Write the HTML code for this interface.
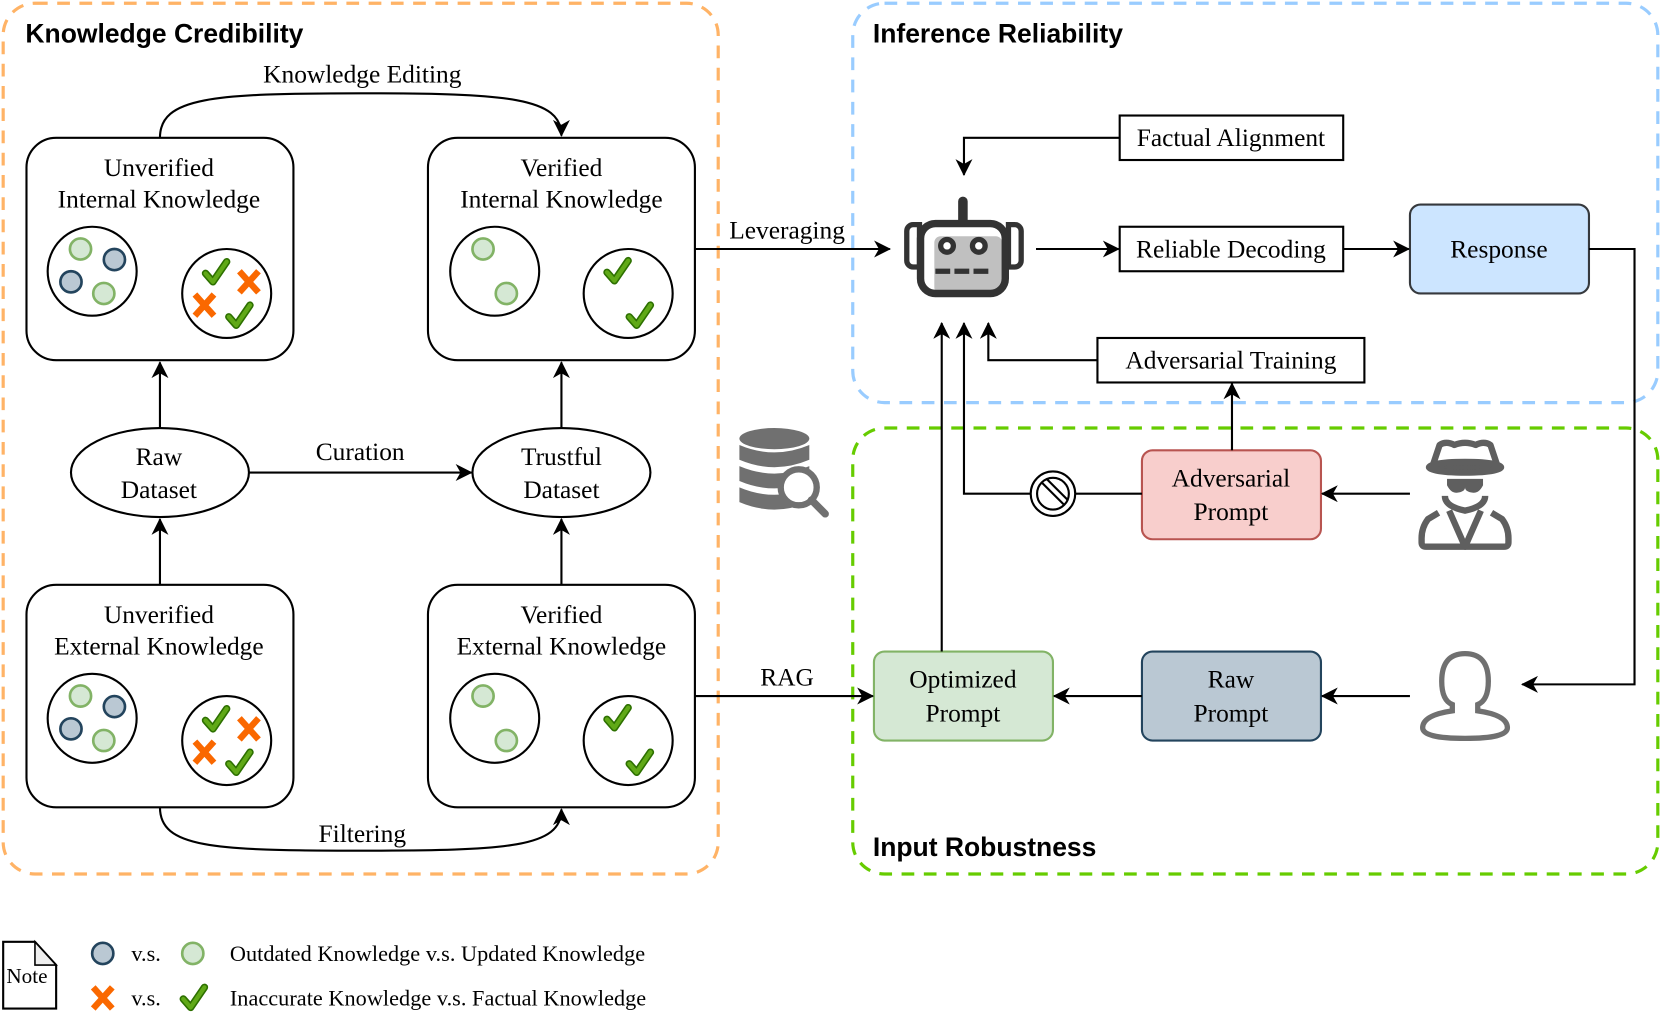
<!DOCTYPE html>
<html><head><meta charset="utf-8"><style>html,body{margin:0;padding:0;background:#fff}svg{display:block}</style></head>
<body>
<svg width="1661" height="1016" viewBox="0 0 1568 959" xmlns="http://www.w3.org/2000/svg">
<defs>
<marker id="ar" viewBox="0 0 14 14" refX="13" refY="7" markerWidth="16" markerHeight="16" markerUnits="userSpaceOnUse" orient="auto"><path d="M0 0 L14 7 L0 14 L4 7 Z" fill="#000"/></marker>
<g id="chk"><path d="M-10 1 L-3 9 L10 -10" fill="none" stroke="#2d7000" stroke-width="7" stroke-linecap="round" stroke-linejoin="round"/><path d="M-10 1 L-3 9 L10 -10" fill="none" stroke="#60a917" stroke-width="4" stroke-linecap="round" stroke-linejoin="round"/></g>
<g id="xx"><path d="M-9 -10 L9 10 M9 -10 L-9 10" stroke="#fa6800" stroke-width="6"/></g>
<g id="cgreen"><circle r="10" fill="#d5e8d4" stroke="#82b366" stroke-width="2.5"/></g>
<g id="cblue"><circle r="10" fill="#bac8d3" stroke="#23445d" stroke-width="2.5"/></g>
</defs>
<g fill="none" stroke-width="3" stroke-dasharray="12 9">
<rect x="3" y="3" width="675" height="822" rx="30" stroke="#ffb366"/>
<rect x="805" y="3" width="760" height="377" rx="30" stroke="#99ccff"/>
<rect x="805" y="404" width="760" height="421" rx="30" stroke="#66cc00"/>
</g>
<g font-family="Liberation Sans, sans-serif" font-weight="bold" font-size="25" fill="#000">
<text x="24" y="40">Knowledge Credibility</text>
<text x="824" y="40">Inference Reliability</text>
<text x="824" y="808">Input Robustness</text>
</g>
<g fill="#fff" stroke="#000" stroke-width="2">
<rect x="25" y="130" width="252" height="210" rx="28"/>
<rect x="404" y="130" width="252" height="210" rx="28"/>
<rect x="25" y="552" width="252" height="210" rx="28"/>
<rect x="404" y="552" width="252" height="210" rx="28"/>
<ellipse cx="151" cy="446" rx="84" ry="42"/>
<ellipse cx="530" cy="446" rx="84" ry="42"/>
<circle cx="87" cy="256" r="42"/><circle cx="214" cy="277" r="42"/>
<circle cx="467" cy="256" r="42"/><circle cx="593" cy="277" r="42"/>
<circle cx="87" cy="678" r="42"/><circle cx="214" cy="699" r="42"/>
<circle cx="467" cy="678" r="42"/><circle cx="593" cy="699" r="42"/>
<rect x="1057" y="109" width="211" height="42"/>
<rect x="1057" y="214" width="211" height="42"/>
<rect x="1036" y="319" width="252" height="42"/>
</g>
<use href="#cgreen" x="76" y="235"/><use href="#cblue" x="108" y="245"/><use href="#cblue" x="67" y="266"/><use href="#cgreen" x="98" y="277"/>
<use href="#cgreen" x="76" y="657"/><use href="#cblue" x="108" y="667"/><use href="#cblue" x="67" y="688"/><use href="#cgreen" x="98" y="699"/>
<use href="#cgreen" x="456" y="235"/><use href="#cgreen" x="478" y="277"/>
<use href="#cgreen" x="456" y="657"/><use href="#cgreen" x="478" y="699"/>
<use href="#chk" x="204" y="257"/><use href="#xx" x="235" y="266"/><use href="#xx" x="193" y="288"/><use href="#chk" x="226" y="298"/>
<use href="#chk" x="204" y="679"/><use href="#xx" x="235" y="688"/><use href="#xx" x="193" y="710"/><use href="#chk" x="226" y="720"/>
<use href="#chk" x="583" y="256"/><use href="#chk" x="604" y="298"/>
<use href="#chk" x="583" y="678"/><use href="#chk" x="604" y="720"/>
<rect x="1331" y="193" width="169" height="84" rx="10" fill="#cce5ff" stroke="#36393d" stroke-width="2"/>
<rect x="1078" y="425" width="169" height="84" rx="10" fill="#f8cecc" stroke="#b85450" stroke-width="2"/>
<rect x="825" y="615" width="169" height="84" rx="10" fill="#d5e8d4" stroke="#82b366" stroke-width="2"/>
<rect x="1078" y="615" width="169" height="84" rx="10" fill="#bac8d3" stroke="#23445d" stroke-width="2"/>
<g fill="none" stroke="#000" stroke-width="2" marker-end="url(#ar)">
<path d="M151 404 V342"/>
<path d="M530 404 V342"/>
<path d="M151 552 V490"/><path d="M530 552 V490"/>
<path d="M235 446 H445"/>
<path d="M151 130 C151 92 200 88 340 88 C480 88 530 92 530 128"/>
<path d="M151 762 C151 800 200 803 340 803 C480 803 530 800 530 764"/>
<path d="M656 235 H840"/>
<path d="M656 657 H824"/>
<path d="M1057 130 H910 V165"/>
<path d="M978 235 H1056"/>
<path d="M1268 235 H1330"/>
<path d="M1500 235 H1543 V646 H1437"/>
<path d="M1163 425 V362"/>
<path d="M1036 340 H933 V305"/>
<path d="M889 615 V305"/>
<path d="M973 466 H910 V305"/>
<path d="M1331 466 H1248"/>
<path d="M1078 657 H995"/>
<path d="M1331 657 H1248"/>
</g>
<path d="M1015 466 H1078" stroke="#000" stroke-width="2"/>
<g fill="#fff" stroke="#000" stroke-width="2"><circle cx="994" cy="466" r="21"/><circle cx="994" cy="466" r="15"/><path d="M984 456 L1004 476 M988 452 L1008 472" /></g>
<g font-family="Liberation Serif, serif" font-size="24" fill="#000" text-anchor="middle">
<text x="150" y="166">Unverified</text><text x="150" y="196">Internal Knowledge</text>
<text x="530" y="166">Verified</text><text x="530" y="196">Internal Knowledge</text>
<text x="150" y="588">Unverified</text><text x="150" y="618">External Knowledge</text>
<text x="530" y="588">Verified</text><text x="530" y="618">External Knowledge</text>
<text x="150" y="439">Raw</text><text x="150" y="470">Dataset</text>
<text x="530" y="439">Trustful</text><text x="530" y="470">Dataset</text>
<text x="340" y="434">Curation</text>
<text x="342" y="78">Knowledge Editing</text>
<text x="342" y="795">Filtering</text>
<text x="743" y="225">Leveraging</text>
<text x="743" y="647">RAG</text>
<text x="1162" y="138">Factual Alignment</text>
<text x="1162" y="243">Reliable Decoding</text>
<text x="1162" y="348">Adversarial Training</text>
<text x="1415" y="243">Response</text>
<text x="1162" y="459">Adversarial</text><text x="1162" y="491">Prompt</text>
<text x="909" y="649">Optimized</text><text x="909" y="681">Prompt</text>
<text x="1162" y="649">Raw</text><text x="1162" y="681">Prompt</text>
</g>
<!-- robot -->
<path d="M862 212 h6 v40 h-6 a6 6 0 0 1 -6 -6 v-28 a6 6 0 0 1 6 -6z M952 212 h6 a6 6 0 0 1 6 6 v28 a6 6 0 0 1 -6 6 h-6z" fill="none" stroke="#333" stroke-width="5"/>
<rect x="882" y="223" width="64" height="54" rx="6" fill="#c0c0c0"/>
<rect x="869" y="211" width="80" height="66" rx="14" fill="none" stroke="#333" stroke-width="7"/>
<path d="M909 208 V190" stroke="#333" stroke-width="9" stroke-linecap="round"/>
<circle cx="894" cy="232" r="6" fill="#fff" stroke="#333" stroke-width="5"/>
<circle cx="924" cy="232" r="6" fill="#fff" stroke="#333" stroke-width="5"/>
<path d="M883 256 h14 M901 256 h14 M919 256 h14" stroke="#333" stroke-width="5"/>
<!-- database -->
<g fill="#707070">
<ellipse cx="731" cy="414" rx="33" ry="10"/>
<path d="M698 420 q33 14 66 0 v14 q-33 14 -66 0z"/>
<path d="M698 440 q33 14 66 0 v14 q-33 14 -66 0z"/>
<path d="M698 460 q33 14 66 0 v14 q-33 14 -66 0z"/>
</g>
<circle cx="754" cy="460" r="17" fill="#fff" stroke="#707070" stroke-width="6"/>
<path d="M766 472 L779 485" stroke="#707070" stroke-width="7" stroke-linecap="round"/>
<!-- spy -->
<g fill="none" stroke="#5f5f5f" stroke-width="6" stroke-linejoin="round">
<path d="M1353 438 l6 -18 q6 -4 14 0 q10 -4 20 0 q8 -4 14 0 l6 18"/>
<ellipse cx="1383" cy="441" rx="34" ry="5" fill="#5f5f5f"/>
<path d="M1364 468 q0 10 19 14 q19 -4 19 -14"/>
<path d="M1358 484 l-10 6 q-6 8 -6 18 v4 q0 4 4 4 h74 q4 0 4 -4 v-4 q0 -10 -6 -18 l-10 -6"/>
<path d="M1368 482 l15 34 l15 -34"/>
</g>
<path d="M1366 452 h34 v6 q-4 8 -10 7 q-7 -1 -7 -5 q0 4 -7 5 q-6 1 -10 -7z" fill="#5f5f5f"/>
<!-- user -->
<path d="M1383 617 q-22 0 -22 26 q0 18 10 22 v6 q-28 4 -28 16 q0 10 40 10 q40 0 40 -10 q0 -12 -28 -16 v-6 q10 -4 10 -22 q0 -26 -22 -26z" fill="none" stroke="#707070" stroke-width="5"/>
<!-- legend -->
<path d="M3 889 h30 l20 22 v41 h-50z" fill="#fff" stroke="#000" stroke-width="2"/>
<path d="M33 889 v22 h20z" fill="#eee" stroke="#000" stroke-width="1.5"/>
<text x="6" y="928" font-family="Liberation Serif, serif" font-size="20">Note</text>
<use href="#cblue" x="97" y="900"/><use href="#cgreen" x="182" y="900"/>
<use href="#xx" x="97" y="942"/><use href="#chk" x="183" y="942"/>
<g font-family="Liberation Serif, serif" font-size="21" fill="#000">
<text x="124" y="907">v.s.</text><text x="124" y="949">v.s.</text>
<text x="217" y="907" textLength="392">Outdated Knowledge v.s. Updated Knowledge</text>
<text x="217" y="949" textLength="393">Inaccurate Knowledge v.s. Factual Knowledge</text>
</g>
</svg>
</body></html>
